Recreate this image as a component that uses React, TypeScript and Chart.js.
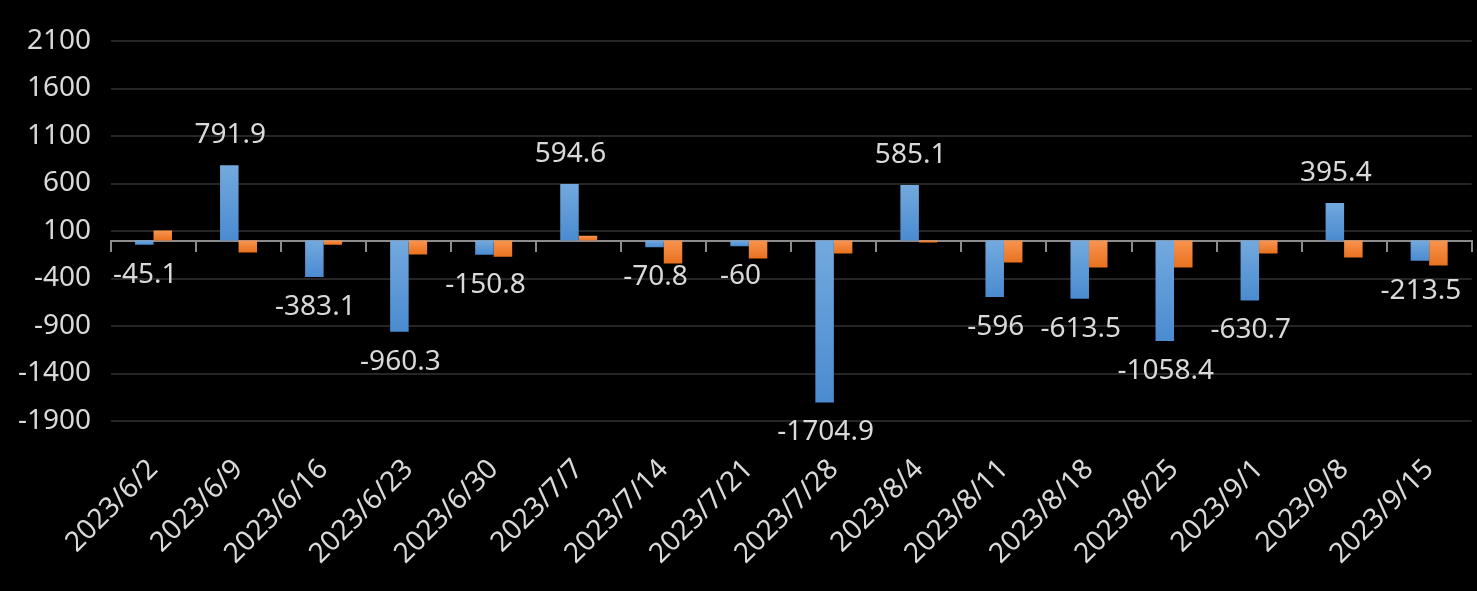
import React, { useEffect, useRef } from "react";
import { Chart, registerables } from "chart.js";

Chart.register(...registerables);

const categories = [
  "2023/6/2", "2023/6/9", "2023/6/16", "2023/6/23", "2023/6/30", "2023/7/7",
  "2023/7/14", "2023/7/21", "2023/7/28", "2023/8/4", "2023/8/11", "2023/8/18",
  "2023/8/25", "2023/9/1", "2023/9/8", "2023/9/15",
];
const seriesA = [
  -45.1, 791.9, -383.1, -960.3, -150.8, 594.6, -70.8, -60, -1704.9, 585.1,
  -596, -613.5, -1058.4, -630.7, 395.4, -213.5,
];
const seriesB = [
  105, -126, -45, -147, -172, 50, -242, -190, -137, -20,
  -232, -284, -284, -137, -179, -263,
];
const yMin = -1900;
const yMax = 2100;
const yStep = 500;

const FONT = "'Noto Sans', 'Liberation Sans', sans-serif";
const TEXT = "#d9d9d9";

function gradientFill(light: string, dark: string) {
  return (ctx: any) => {
    const chart = ctx.chart;
    const y = chart.scales?.y;
    if (ctx.type !== "data" || !y) return dark;
    const v = ctx.raw as number;
    const p0 = y.getPixelForValue(0);
    const p1 = y.getPixelForValue(v);
    if (!isFinite(p0) || !isFinite(p1)) return dark;
    const top = Math.min(p0, p1);
    const bot = Math.max(p0, p1);
    if (bot - top < 1) return dark;
    const g = chart.ctx.createLinearGradient(0, top, 0, bot);
    g.addColorStop(0, light);
    g.addColorStop(1, dark);
    return g;
  };
}

const valueLabels = {
  id: "valueLabels",
  afterDatasetsDraw(chart: any) {
    const meta = chart.getDatasetMeta(0);
    const ctx = chart.ctx;
    ctx.save();
    ctx.font = `28px ${FONT}`;
    ctx.fillStyle = TEXT;
    ctx.textAlign = "center";
    ctx.textBaseline = "middle";
    meta.data.forEach((el: any, i: number) => {
      const v = seriesA[i];
      const y = v >= 0 ? el.y - 30 : el.y + 30;
      ctx.fillText(String(v), el.x + 1, y);
    });
    ctx.restore();
  },
};

export default function App() {
  const ref = useRef<HTMLCanvasElement>(null);
  useEffect(() => {
    if (!ref.current) return;
    const chart = new Chart(ref.current, {
      type: "bar",
      data: {
        labels: categories,
        datasets: [
          {
            label: "A",
            data: seriesA,
            backgroundColor: gradientFill("#73a9de", "#4a8bd0"),
            categoryPercentage: 0.435,
            barPercentage: 1,
          },
          {
            label: "B",
            data: seriesB,
            backgroundColor: gradientFill("#f8944f", "#e9711f"),
            categoryPercentage: 0.435,
            barPercentage: 1,
          },
        ],
      },
      options: {
        animation: false,
        responsive: true,
        maintainAspectRatio: false,
        layout: { padding: { top: 41, right: 3, left: 0, bottom: 0 } },
        plugins: {
          legend: { display: false },
          tooltip: { enabled: false },
        },
        scales: {
          x: {
            type: "category",
            position: "bottom",
            offset: true,
            grid: { display: false },
            border: { display: false },
            ticks: {
              color: TEXT,
              font: { family: FONT, size: 28 },
              minRotation: 45,
              maxRotation: 45,
              autoSkip: false,
              padding: 24,
            },
            afterFit: (axis: any) => {
              axis.height = 170;
            },
          },
          xz: {
            type: "category",
            position: { y: 0 } as any,
            offset: true,
            z: 1,
            grid: {
              offset: true,
              drawOnChartArea: false,
              drawTicks: true,
              tickLength: 10,
              color: "#8c8c8c",
              lineWidth: 2,
            },
            border: { display: true, color: "#8c8c8c", width: 2 },
            ticks: { display: false },
          },
          y: {
            min: yMin,
            max: yMax,
            ticks: {
              stepSize: yStep,
              color: TEXT,
              font: { family: FONT, size: 28 },
              padding: 20,
              callback: (v: any) => String(v),
            },
            grid: { color: "#262626", lineWidth: 2, drawTicks: false },
            border: { display: false },
            afterFit: (axis: any) => {
              axis.width = 111;
            },
          },
        },
      },
      plugins: [valueLabels],
    });
    return () => chart.destroy();
  }, []);

  return (
    <div
      style={{
        position: "absolute",
        left: 0,
        top: 0,
        width: 1477,
        height: 591,
        background: "#000",
      }}
    >
      <canvas ref={ref} />
    </div>
  );
}
